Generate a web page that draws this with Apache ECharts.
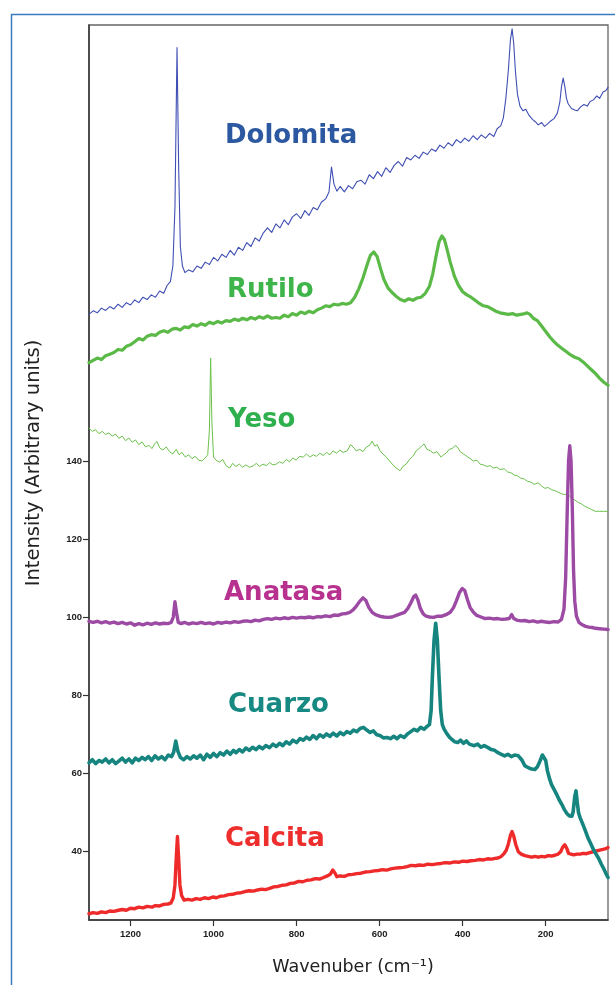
<!DOCTYPE html>
<html>
<head>
<meta charset="utf-8">
<script src="https://cdn.jsdelivr.net/npm/echarts@6/dist/echarts.min.js"></script>
<style>
html,body{margin:0;padding:0;background:#fff;}
#chart{width:615px;height:985px;}
</style>
</head>
<body>
<div id="chart"></div>
<script>
// Wavenumber ticks and intensity ticks
const xTicks = [200, 400, 600, 800, 1000, 1200];
const yTicks = [40, 60, 80, 100, 120, 140];
const xRange = [50, 1300];
const yRange = [22.3, 251.8];

const seriesNames = ['Dolomita', 'Rutilo', 'Yeso', 'Anatasa', 'Calcita', 'Cuarzo'];

const dolomita = [[1300,177.6],[1290,178.5],[1280,178.0],[1270,179.2],[1260,178.6],[1250,179.6],[1240,179.0],[1230,180.2],[1220,179.4],[1210,180.6],[1200,180.0],[1190,181.3],[1180,180.6],[1170,182.0],[1160,181.4],[1150,182.6],[1140,182.0],[1130,183.6],[1120,183.0],[1112,185.0],[1104,186.0],[1098,190.0],[1093,205],[1088,246.0],[1084,215],[1080,195],[1075,190.0],[1069,188.3],[1060,189.0],[1050,188.5],[1040,190.0],[1030,189.4],[1020,191.0],[1010,190.4],[1000,192.2],[990,191.3],[980,193.0],[970,192.2],[960,194.0],[950,192.8],[940,194.8],[930,194.0],[920,196.0],[910,195.0],[900,197.2],[890,196.4],[880,198.5],[870,199.8],[860,198.6],[850,200.8],[840,199.8],[830,201.8],[820,200.6],[810,202.6],[800,203.4],[790,202.2],[780,204.2],[770,203.0],[760,205.0],[750,204.4],[740,206.4],[730,207.2],[722,209],[716,215.4],[710,211],[703,209.2],[695,210.4],[685,209.0],[675,210.6],[665,209.8],[655,211.6],[645,212.0],[635,211.0],[625,213.4],[615,212.4],[605,214.2],[595,213.0],[585,215.2],[575,214.0],[565,215.8],[555,216.8],[545,215.6],[535,217.8],[525,217.2],[515,218.4],[505,217.6],[495,219.2],[485,218.6],[475,220.0],[465,219.4],[455,221.0],[445,220.2],[435,221.6],[425,220.8],[415,222.4],[405,221.6],[395,222.8],[385,222.0],[375,223.4],[365,222.4],[355,223.6],[345,222.8],[335,224.0],[325,223.2],[317,225.2],[308,226.0],[302,228.0],[296,233],[290,240.2],[285,248],[281,250.8],[277,247],[273,240.0],[268,234],[262,231.0],[255,229.8],[248,230.2],[240,228.6],[232,227.6],[225,227.0],[218,226.2],[210,226.8],[203,225.8],[196,226.4],[188,227.2],[180,227.8],[172,229.2],[166,232],[162,236],[158,238.2],[154,236],[150,233],[146,231.6],[138,230.4],[130,230.0],[124,229.8],[116,230.8],[108,231.4],[100,231.0],[93,232.2],[85,232.6],[77,233.6],[70,233.0],[62,234.6],[55,235.0],[50,235.8]];

const rutilo = [[1300,165.2],[1290,165.8],[1280,166.4],[1270,166.0],[1260,167.0],[1250,167.4],[1240,167.8],[1230,168.6],[1220,168.4],[1210,169.4],[1200,169.8],[1190,170.6],[1180,171.4],[1170,171.0],[1160,172.0],[1150,172.4],[1140,172.2],[1130,173.0],[1120,173.4],[1110,173.0],[1100,173.8],[1090,174.0],[1080,173.6],[1070,174.4],[1060,174.2],[1050,175.0],[1040,174.6],[1030,175.2],[1020,174.8],[1010,175.6],[1000,175.2],[990,175.8],[980,175.4],[970,176.0],[960,175.8],[950,176.4],[940,176.0],[930,176.6],[920,176.2],[910,176.8],[900,176.4],[890,177.0],[880,176.6],[870,177.2],[860,176.6],[850,176.8],[840,176.6],[830,177.4],[820,177.0],[810,177.8],[800,177.4],[790,178.2],[780,177.8],[770,178.4],[760,178.0],[750,178.8],[740,179.2],[730,179.8],[720,179.6],[710,180.2],[700,180.0],[690,180.4],[680,180.2],[670,180.6],[660,182.0],[650,184.2],[640,187.0],[630,190.4],[622,192.8],[614,193.6],[606,192.4],[598,189.4],[590,186.6],[580,184.4],[570,183.2],[560,182.2],[550,181.4],[540,181.0],[530,181.6],[520,181.2],[510,181.8],[500,182.0],[490,183.0],[480,184.8],[472,188.0],[464,192.6],[457,196.2],[450,197.7],[444,196.8],[437,194.0],[430,191.0],[420,187.4],[410,185.0],[400,183.4],[390,182.6],[380,182.0],[370,181.2],[360,180.4],[350,179.8],[340,179.6],[330,179.0],[320,178.4],[310,178.0],[300,177.8],[290,177.6],[280,177.8],[270,177.4],[260,177.6],[250,177.8],[245,178.0],[238,177.6],[230,176.6],[220,176.0],[210,174.6],[200,173.2],[190,171.8],[180,170.6],[170,169.6],[160,168.8],[150,168.0],[140,167.2],[130,166.6],[120,166.2],[110,165.4],[100,164.4],[90,163.4],[80,162.4],[70,161.2],[60,160.2],[50,159.4]];

const yeso = [[1300,148.4],[1292,147.6],[1284,148.0],[1276,147.0],[1268,147.6],[1260,146.8],[1252,147.2],[1244,146.4],[1236,146.9],[1228,145.8],[1220,146.4],[1212,145.2],[1204,145.9],[1196,144.8],[1188,145.4],[1180,144.2],[1172,144.9],[1164,143.6],[1156,144.0],[1148,143.2],[1142,144.4],[1136,145.0],[1130,143.4],[1122,142.8],[1114,143.6],[1106,142.4],[1098,141.8],[1090,143.0],[1083,141.6],[1076,142.2],[1068,141.0],[1060,141.6],[1052,140.6],[1044,141.2],[1036,140.2],[1028,140.0],[1020,140.8],[1014,141.6],[1010,148],[1007,166.4],[1004,150],[1000,141.0],[994,140.2],[986,139.7],[978,140.4],[970,138.8],[961,138.2],[954,139.4],[946,138.6],[938,139.2],[930,138.4],[922,139.0],[914,138.4],[905,138.7],[897,139.4],[889,138.6],[881,139.2],[873,138.8],[865,139.6],[857,139.0],[849,139.2],[841,139.8],[833,139.4],[825,140.4],[817,139.8],[809,140.8],[801,140.2],[793,141.2],[784,141.0],[776,141.8],[768,141.0],[760,141.6],[752,141.2],[744,142.0],[736,141.4],[728,142.2],[720,141.6],[712,142.6],[704,142.0],[696,142.8],[688,142.2],[678,142.6],[670,144.2],[664,143.6],[656,142.6],[648,143.0],[640,142.4],[632,143.6],[624,144.0],[618,145.1],[612,143.8],[606,144.2],[599,142.6],[592,141.8],[584,141.0],[576,140.0],[568,139.0],[560,138.2],[551,137.5],[544,138.6],[536,139.2],[528,140.4],[520,141.2],[512,142.6],[505,143.2],[499,143.8],[493,144.4],[486,143.0],[478,142.6],[470,142.0],[462,142.4],[452,141.0],[446,141.6],[440,142.0],[432,143.0],[425,143.2],[418,144.0],[413,143.6],[406,142.4],[398,141.8],[390,141.2],[382,140.6],[374,140.0],[366,140.2],[358,139.2],[350,139.0],[342,138.6],[334,138.8],[326,138.2],[318,138.4],[310,137.8],[300,138.0],[292,137.2],[284,137.0],[276,136.4],[268,136.2],[260,135.6],[252,135.4],[244,134.8],[236,134.6],[228,134.0],[218,134.4],[210,133.6],[202,133.0],[194,133.2],[186,132.6],[178,132.4],[170,132.0],[162,131.6],[154,131.4],[146,131.5],[138,130.4],[130,130.0],[122,129.4],[114,129.0],[106,128.4],[98,128.0],[90,127.6],[81,127.1],[70,127.1],[60,127.1],[50,127.1]];

const anatasa = [[1300,98.9],[1290,98.6],[1280,98.9],[1270,98.5],[1260,98.8],[1250,98.4],[1240,98.7],[1230,98.3],[1220,98.6],[1210,98.2],[1200,98.5],[1190,97.9],[1180,98.3],[1170,98.0],[1160,98.4],[1150,98.1],[1140,98.5],[1130,98.2],[1120,98.4],[1110,98.3],[1102,98.6],[1097,100],[1093,103.9],[1089,101],[1085,98.6],[1078,98.3],[1070,98.6],[1060,98.2],[1050,98.5],[1040,98.3],[1030,98.6],[1020,98.3],[1010,98.5],[1000,98.2],[990,98.6],[980,98.4],[970,98.7],[960,98.5],[950,98.8],[940,98.6],[930,98.9],[920,99.0],[910,98.8],[900,99.2],[890,99.0],[880,99.4],[870,99.6],[860,99.4],[850,99.7],[840,99.5],[830,99.8],[820,99.6],[810,99.9],[800,99.7],[790,99.9],[780,99.8],[770,100.0],[760,99.8],[750,100.1],[740,100.0],[730,100.3],[720,100.1],[710,100.5],[700,100.4],[690,100.8],[680,100.9],[672,101.2],[664,101.8],[656,102.8],[648,104.0],[640,104.9],[633,104.2],[626,102.4],[618,101.2],[610,100.6],[600,100.2],[590,100.0],[580,99.9],[570,100.0],[560,100.4],[550,100.8],[540,101.2],[532,102.2],[525,103.6],[518,105.2],[513,105.6],[508,104.4],[502,102.2],[495,100.8],[488,100.2],[480,100.0],[470,99.9],[460,100.2],[450,100.2],[440,100.6],[430,101.2],[422,102.4],[415,104.2],[408,106.2],[401,107.3],[395,106.8],[389,104.6],[382,102.4],[374,101.2],[366,100.4],[356,100.0],[346,99.6],[336,99.7],[326,99.5],[316,99.6],[306,99.4],[296,99.5],[288,99.6],[282,100.6],[277,99.6],[270,99.2],[260,99.0],[250,99.1],[240,98.8],[230,99.0],[220,98.7],[210,98.9],[200,98.7],[190,98.6],[180,98.8],[170,98.7],[162,99.4],[156,102],[152,110],[148,128],[145,140],[142,143.9],[139,140],[136,128],[133,112],[130,104],[126,100.2],[120,98.6],[112,98.0],[104,97.6],[96,97.4],[88,97.3],[80,97.1],[70,97.0],[60,96.9],[50,96.8]];

const cuarzo = [[1300,62.6],[1292,63.4],[1284,62.4],[1276,63.2],[1268,62.8],[1260,63.6],[1252,62.6],[1244,63.4],[1236,62.4],[1229,63.0],[1220,63.8],[1212,62.8],[1204,63.6],[1196,62.6],[1188,63.8],[1180,63.2],[1172,64.0],[1165,63.4],[1157,64.2],[1149,63.2],[1141,64.4],[1133,63.6],[1125,64.2],[1117,63.4],[1109,64.6],[1101,64.2],[1096,65.4],[1091,68.2],[1086,65.6],[1080,64.0],[1072,63.4],[1064,64.2],[1056,63.6],[1048,64.4],[1040,63.8],[1032,64.6],[1024,63.4],[1016,64.8],[1008,64.0],[1000,65.0],[992,64.2],[984,65.2],[976,64.6],[968,65.6],[960,64.8],[952,65.8],[946,65.2],[938,66.0],[930,65.4],[922,66.4],[914,65.8],[906,66.6],[898,66.0],[890,66.8],[882,66.2],[874,67.0],[865,66.5],[857,67.4],[849,66.8],[841,67.6],[833,67.0],[825,68.0],[817,67.4],[809,68.4],[800,67.8],[792,68.8],[784,68.4],[776,69.2],[768,68.6],[760,69.6],[752,68.8],[744,69.8],[736,69.2],[728,70.0],[720,69.4],[712,70.2],[703,69.5],[695,70.4],[687,69.8],[679,70.6],[671,70.2],[663,71.0],[655,70.6],[647,71.4],[639,71.7],[631,71.0],[623,70.4],[615,70.8],[607,69.8],[599,69.6],[591,69.0],[582,69.1],[574,68.8],[566,69.4],[558,68.8],[550,69.6],[541,69.1],[533,70.0],[525,70.6],[517,71.2],[509,70.8],[501,71.7],[493,71.2],[485,72.0],[480,72.4],[476,76],[473,84.6],[469,94],[465,98.4],[461,94],[457,84.6],[453,76],[449,72.4],[445,71.3],[439,70.2],[432,69.2],[426,68.6],[419,68.0],[412,67.8],[405,68.4],[398,67.6],[391,68.2],[384,67.4],[380,67.8],[372,67.0],[364,67.4],[356,66.6],[348,67.0],[339,66.5],[331,66.0],[323,65.8],[315,65.2],[307,64.8],[299,64.4],[291,64.8],[283,64.2],[275,64.6],[266,64.4],[258,63.4],[250,61.8],[242,61.4],[234,61.0],[226,60.9],[220,61.6],[214,63.0],[208,64.6],[204,64.8],[200,63.2],[196,60.6],[191,58.6],[186,57.0],[180,55.8],[174,54.6],[168,53.2],[161,51.9],[155,50.6],[149,49.6],[143,49.0],[137,48.9],[134,50],[130,54.0],[127,55.4],[124,52.4],[121,49.8],[117,48.5],[112,47.2],[106,45.6],[98,43.3],[92,42.0],[86,40.6],[80,39.4],[73,38.2],[66,36.6],[60,35.4],[54,34.0],[50,33.2]];

const calcita = [[1300,23.9],[1290,24.2],[1280,24.0],[1270,24.4],[1260,24.2],[1250,24.6],[1240,24.5],[1229,24.8],[1220,25.0],[1210,24.8],[1200,25.3],[1190,25.2],[1180,25.6],[1170,25.4],[1160,25.8],[1148,25.6],[1140,26.0],[1130,25.9],[1120,26.3],[1110,26.4],[1103,26.6],[1097,28.0],[1093,31.3],[1090,38],[1087,43.7],[1084,38],[1081,31.3],[1077,28.6],[1071,27.4],[1062,27.6],[1052,27.4],[1042,27.8],[1032,27.6],[1022,28.0],[1012,27.8],[1002,28.2],[993,28.0],[984,28.4],[974,28.5],[964,28.8],[954,28.9],[944,29.2],[934,29.3],[924,29.6],[914,29.8],[904,29.7],[894,30.0],[884,30.2],[875,30.1],[865,30.4],[855,30.8],[845,30.9],[835,31.2],[825,31.3],[815,31.7],[805,31.8],[795,32.2],[785,32.1],[775,32.5],[765,32.6],[755,32.9],[745,32.8],[735,33.2],[726,33.6],[719,34.0],[713,35.1],[708,34.4],[703,33.4],[695,33.6],[685,33.5],[675,33.9],[665,34.0],[655,34.2],[645,34.3],[635,34.6],[623,34.7],[613,34.9],[603,35.0],[593,35.2],[583,35.1],[573,35.4],[563,35.6],[553,35.7],[543,35.8],[534,36.0],[524,36.3],[514,36.2],[504,36.4],[494,36.3],[484,36.6],[473,36.5],[462,36.7],[452,36.8],[442,37.0],[432,36.9],[420,37.2],[410,37.1],[400,37.4],[390,37.3],[380,37.5],[370,37.6],[360,37.8],[350,37.7],[340,38.0],[330,37.9],[322,38.1],[315,38.2],[307,38.6],[300,39.4],[295,40.2],[290,41.8],[285,44.0],[281,45.0],[277,43.8],[272,41.6],[266,39.8],[259,39.2],[250,38.8],[242,38.6],[234,38.4],[226,38.6],[218,38.4],[210,38.6],[202,38.5],[194,38.8],[186,38.7],[178,38.9],[170,39.2],[164,39.8],[159,41.0],[154,41.6],[149,40.6],[145,39.4],[141,39.1],[133,39.0],[125,39.2],[117,39.2],[110,39.4],[102,39.3],[94,39.6],[86,39.8],[78,40.0],[70,40.2],[62,40.4],[55,40.6],[50,40.9]];

const dataByName = {Dolomita: dolomita, Rutilo: rutilo, Yeso: yeso, Anatasa: anatasa, Calcita: calcita, Cuarzo: cuarzo};

const lineStyles = {
  Dolomita: {color: '#3f4fb4', width: 1.1},
  Rutilo:   {color: '#5bb947', width: 3.2},
  Yeso:     {color: '#6cc14c', width: 1.0},
  Anatasa:  {color: '#9c4aa4', width: 3.4},
  Calcita:  {color: '#ee2a2a', width: 3.4},
  Cuarzo:   {color: '#16857f', width: 3.6}
};

const labelStyles = [
  {text: 'Dolomita', x: 225, y: 136, color: '#2b58a0'},
  {text: 'Rutilo',   x: 227, y: 290, color: '#3db54a'},
  {text: 'Yeso',     x: 228, y: 420, color: '#2fb04e'},
  {text: 'Anatasa',  x: 224, y: 593, color: '#b8318f'},
  {text: 'Cuarzo',   x: 228, y: 705, color: '#168a82'},
  {text: 'Calcita',  x: 225, y: 839, color: '#ee2d2d'}
];

const chart = echarts.init(document.getElementById('chart'), null, {renderer: 'canvas'});

const graphics = [
  {type: 'rect', left: 9, top: 12, shape: {x: 0, y: 0, width: 640, height: 1000},
   style: {fill: 'none', stroke: '#3b7cc0', lineWidth: 1.5}, silent: true, z: 0},
  {type: 'text', x: 353, y: 967,
   style: {text: 'Wavenuber (cm\u207B\u00B9)', font: '17.5px "DejaVu Sans"', fill: '#222', align: 'center', verticalAlign: 'middle'}},
  {type: 'text', x: 34, y: 463, rotation: Math.PI / 2,
   style: {text: 'Intensity (Arbitrary units)', font: '19.5px "DejaVu Sans"', fill: '#222', align: 'center', verticalAlign: 'middle'}}
];
labelStyles.forEach(function (l) {
  graphics.push({type: 'text', x: l.x, y: l.y, z: 100,
    style: {text: l.text, font: 'bold 26px "DejaVu Sans"', fill: l.color, align: 'left', verticalAlign: 'middle'}});
});

const plainNum = function (v) { return String(v); };

const option = {
  animation: false,
  backgroundColor: '#ffffff',
  grid: {left: 89, right: 7, top: 25, bottom: 65, show: true, borderColor: '#666', borderWidth: 1.3, backgroundColor: 'transparent'},
  xAxis: {
    type: 'value', inverse: true, min: xRange[0], max: xRange[1],
    axisLine: {show: true, onZero: false, lineStyle: {color: '#333', width: 1.5}},
    axisTick: {show: true, length: 6, inside: false, customValues: xTicks, lineStyle: {color: '#333', width: 1.2}},
    axisLabel: {show: true, margin: 9, customValues: xTicks, formatter: plainNum, color: '#222', fontSize: 9.5, fontWeight: 'bold', fontFamily: 'Liberation Sans'},
    splitLine: {show: false}
  },
  yAxis: {
    type: 'value', min: yRange[0], max: yRange[1],
    axisLine: {show: true, onZero: false, lineStyle: {color: '#333', width: 1.5}},
    axisTick: {show: true, length: 6, inside: false, customValues: yTicks, lineStyle: {color: '#333', width: 1.2}},
    axisLabel: {show: true, margin: 7, customValues: yTicks, formatter: plainNum, color: '#222', fontSize: 9.5, fontWeight: 'bold', fontFamily: 'Liberation Sans'},
    splitLine: {show: false}
  },
  graphic: graphics,
  series: seriesNames.map(function (n) {
    return {
      name: n, type: 'line', data: dataByName[n], showSymbol: false, symbol: 'none',
      lineStyle: {color: lineStyles[n].color, width: lineStyles[n].width, join: 'round', cap: 'round'},
      itemStyle: {color: lineStyles[n].color}, clip: true, silent: true
    };
  })
};
chart.setOption(option);
</script>
</body>
</html>
